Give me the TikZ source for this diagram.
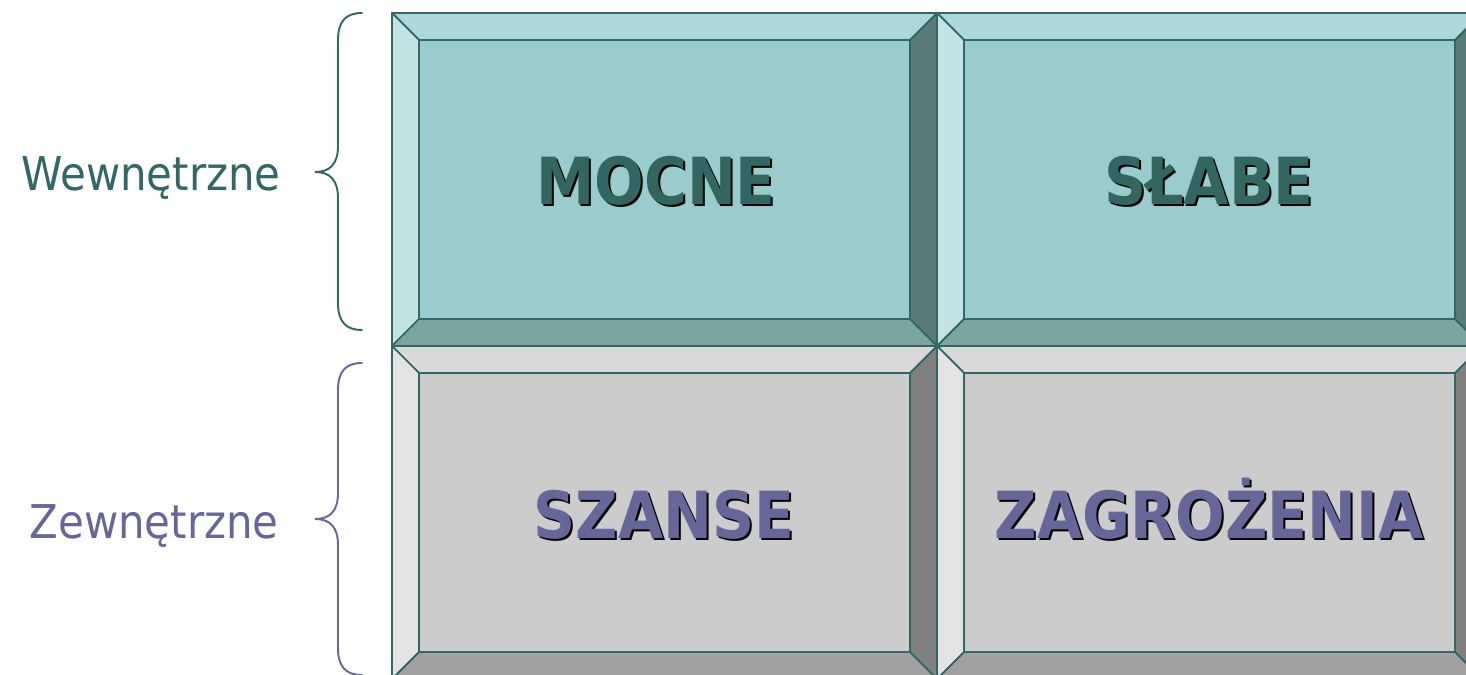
\documentclass[tikz,border=0pt]{standalone}
\usepackage{fontspec}
\setmainfont{DejaVu Sans Condensed}
\definecolor{line-t}{HTML}{336666}
\definecolor{face-t}{HTML}{9BCCCD}
\definecolor{top-t}{HTML}{AED8D8}
\definecolor{left-t}{HTML}{C3E3E3}
\definecolor{bot-t}{HTML}{7BA5A3}
\definecolor{right-t}{HTML}{5A7B7A}
\definecolor{face-g}{HTML}{CCCCCC}
\definecolor{top-g}{HTML}{D9D9D9}
\definecolor{left-g}{HTML}{E3E3E3}
\definecolor{bot-g}{HTML}{A0A0A0}
\definecolor{right-g}{HTML}{808080}
\definecolor{txt-t}{HTML}{336660}
\definecolor{txt-g}{HTML}{666699}
\begin{document}
\begin{tikzpicture}[x=0.02cm,y=-0.02cm,
  bevel/.style={draw=line-t,line width=1pt,line join=round},
  bigword/.style={font=\bfseries\fontsize{37}{40}\selectfont,anchor=base},
  sideword/.style={font=\fontsize{26.5}{30}\selectfont,anchor=base east,inner sep=0pt},
  brace/.style={line width=1.1pt,line cap=round}]
\clip (0,0) rectangle (1466,675);
% four bevelled boxes
\foreach \bx/\by/\cs in {392/13/t,937/13/t,392/346/g,937/346/g}{
  \begin{scope}[shift={(\bx,\by)}]
    \filldraw[bevel,fill=top-\cs] (0,0) -- (545,0) -- (518,27) -- (27,27) -- cycle;
    \filldraw[bevel,fill=left-\cs] (0,0) -- (27,27) -- (27,306) -- (0,333) -- cycle;
    \filldraw[bevel,fill=bot-\cs] (0,333) -- (27,306) -- (518,306) -- (545,333) -- cycle;
    \filldraw[bevel,fill=right-\cs] (545,0) -- (545,333) -- (518,306) -- (518,27) -- cycle;
    \filldraw[bevel,fill=face-\cs] (27,27) rectangle (518,306);
  \end{scope}
}
% box words with shadow
\node[bigword,text=black] (mocne-s) at (658,207) {MOCNE};
\node[bigword,text=txt-t] (mocne) at (656,205) {MOCNE};
\node[bigword,text=black] (slabe-s) at (1211,207) {SŁABE};
\node[bigword,text=txt-t] (slabe) at (1209,205) {SŁABE};
\node[bigword,text=black] (szanse-s) at (666,540) {SZANSE};
\node[bigword,text=txt-g] (szanse) at (664,538) {SZANSE};
\node[bigword,text=black] (zagrozenia-s) at (1211,540) {ZAGROŻENIA};
\node[bigword,text=txt-g] (zagrozenia) at (1209,538) {ZAGROŻENIA};
% side labels
\node[sideword,text=line-t] (wew) at (281,191) {Wewnętrzne};
\node[sideword,text=txt-g] (zew) at (279,538) {Zewnętrzne};
% braces
\draw[brace,line-t] (362,13) .. controls (346,13) and (338,21) .. (338,40) -- (338,146)
  .. controls (338,164) and (330,172) .. (315,172) .. controls (330,172) and (338,180) .. (338,198)
  -- (338,303) .. controls (338,322) and (346,330) .. (362,330);
\draw[brace,txt-g] (362,363) .. controls (346,363) and (338,371) .. (338,390) -- (338,493)
  .. controls (338,511) and (330,519) .. (315,519) .. controls (330,519) and (338,527) .. (338,545)
  -- (338,648) .. controls (338,667) and (346,675) .. (362,675);
\end{tikzpicture}
\end{document}
